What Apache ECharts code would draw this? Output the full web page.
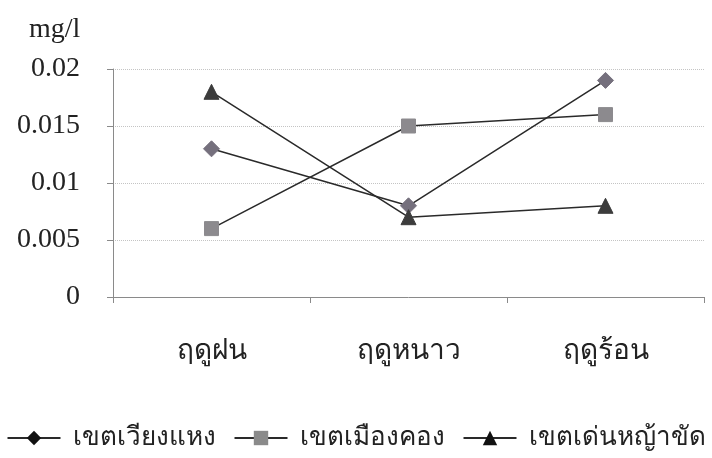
<!DOCTYPE html>
<html>
<head>
<meta charset="utf-8">
<script src="https://cdn.jsdelivr.net/npm/echarts@6/dist/echarts.min.js"></script>
<style>
  html, body { margin: 0; padding: 0; background: #fff; }
  #chart { width: 712px; height: 458px; }
</style>
</head>
<body>
<div id="chart"></div>
<script>
// Seasons along the x axis
const seasons = ['ฤดูฝน', 'ฤดูหนาว', 'ฤดูร้อน'];

// Concentration (mg/l) for each district
const wiangHaeng = [0.013, 0.008, 0.019];
const muangKhong = [0.006, 0.015, 0.016];
const denYaKhat = [0.018, 0.007, 0.008];

// Series names
const seriesNames = ['เขตเวียงแหง', 'เขตเมืองคอง', 'เขตเด่นหญ้าขัด'];

// Value axis ticks
const yTicks = [0, 0.005, 0.01, 0.015, 0.02];

const serif = '"Liberation Serif", "DejaVu Serif", serif';
const chart = echarts.init(document.getElementById('chart'));

function lineSeries(name, data, symbol, size, color) {
  return {
    name: name,
    type: 'line',
    data: data,
    symbol: symbol,
    symbolSize: size,
    lineStyle: { color: '#2a2a2a', width: 1.5 },
    itemStyle: { color: color, borderColor: color },
    emphasis: { disabled: true },
    animation: false
  };
}

chart.setOption({
  animation: false,
  backgroundColor: '#ffffff',
  grid: { left: 113, right: 8, top: 69, bottom: 161 },
  graphic: [{
    type: 'text',
    left: 29,
    top: 16,
    style: { text: 'mg/l', font: '28px ' + serif, fill: '#222' }
  }],
  xAxis: {
    type: 'category',
    data: seasons,
    boundaryGap: true,
    axisLine: { lineStyle: { color: '#8a8a8a', width: 1 } },
    axisTick: { show: true, length: 6, lineStyle: { color: '#8a8a8a' } },
    axisLabel: { margin: 41, fontSize: 28, color: '#222', fontFamily: serif }
  },
  yAxis: {
    type: 'value',
    min: yTicks[0],
    max: yTicks[yTicks.length - 1],
    interval: yTicks[1] - yTicks[0],
    axisLine: { show: true, lineStyle: { color: '#8a8a8a', width: 1 } },
    axisTick: { show: true, length: 6, lineStyle: { color: '#8a8a8a' } },
    axisLabel: { margin: 33, fontSize: 28, color: '#222', fontFamily: serif,
      formatter: v => String(+v.toFixed(3)) },
    splitLine: { show: true, lineStyle: { color: '#c4c4c4', type: 'dotted' } }
  },
  legend: {
    bottom: 2,
    left: 'center',
    itemWidth: 53,
    itemHeight: 18,
    itemGap: 18,
    textStyle: { fontSize: 26, color: '#222', fontFamily: serif, padding: [0, 0, 0, 7] },
    data: [
      { name: seriesNames[0], itemStyle: { color: '#111' } },
      { name: seriesNames[1], itemStyle: { color: '#8a8a8a' } },
      { name: seriesNames[2], itemStyle: { color: '#111' } }
    ]
  },
  series: [
    lineSeries(seriesNames[0], wiangHaeng, 'diamond', 16, '#75707d'),
    lineSeries(seriesNames[1], muangKhong, 'rect', 14, '#8c8a8e'),
    lineSeries(seriesNames[2], denYaKhat, 'triangle', 15, '#3c3c3c')
  ]
});
</script>
</body>
</html>
